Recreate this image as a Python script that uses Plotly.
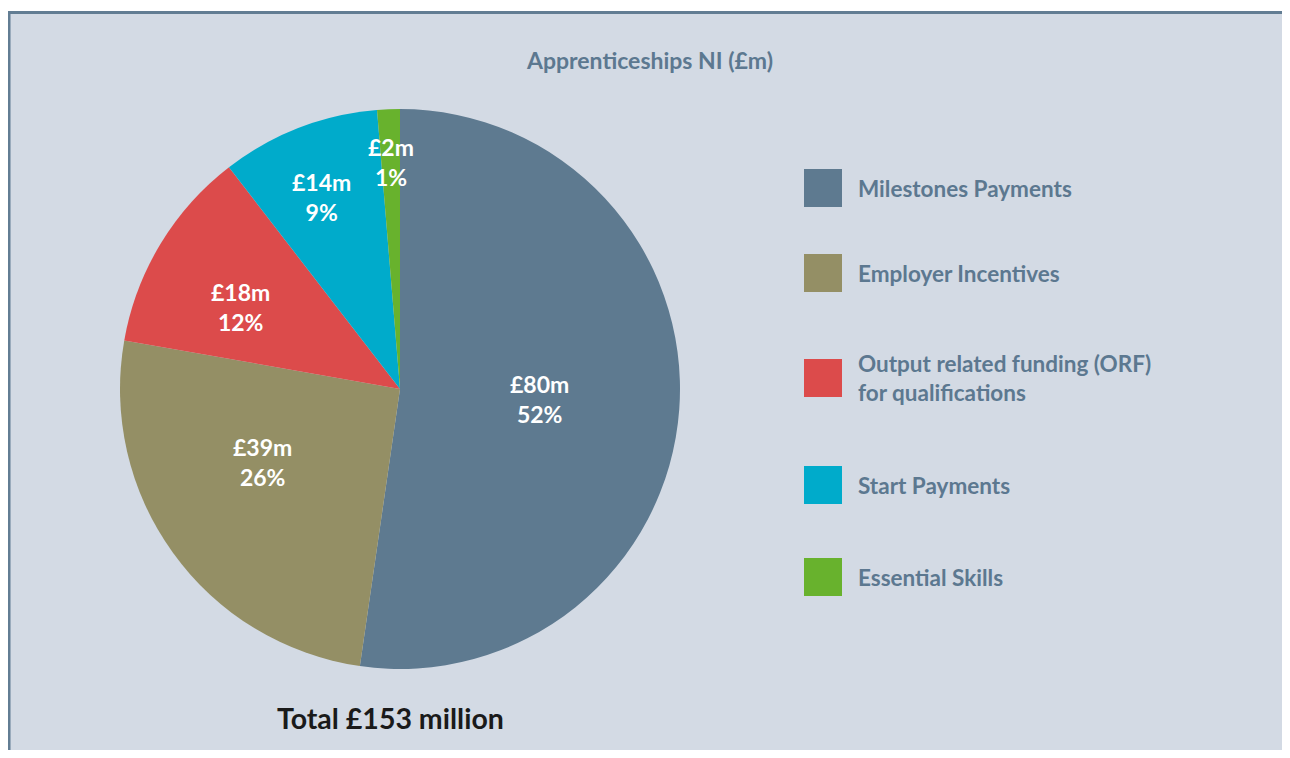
import math
import plotly.graph_objects as go

# ---- data ----
categories = ["Milestones Payments", "Employer Incentives",
              "Output related funding (ORF)<br>for qualifications",
              "Start Payments", "Essential Skills"]
values = [80, 39, 18, 14, 2]          # £m
percent_labels = ["52%", "26%", "12%", "9%", "1%"]
title_text = "Apprenticeships NI (£m)"
total_text = "Total £153 million"

# ---- style ----
colors = ["#5e7a90", "#948f65", "#dc4b4b", "#00abcb", "#68b22d"]
OFF = 8                               # page body margin
W, H = 1290 - OFF, 758 - 2 * OFF      # figure size so the page fits the window
CX, CY, R = 400, 389, 280             # pie centre / radius (page px)
label_radius = [0.5, 0.556, 0.642, 0.74, 0.81]
label_angle_nudge = [0, 8, -4, -1, 0]  # degrees
legend_y = [188, 273, 378, 485, 577]
text_col = "#5c7890"
border_col = "#627d93"
FONT = "Lato"


def px(x):
    return (x - OFF) / W


def py(y):
    return 1 - (y - OFF) / H


fig = go.Figure()
fig.add_trace(go.Pie(
    labels=categories, values=values, sort=False, direction="clockwise",
    rotation=0, marker=dict(colors=colors, line=dict(width=0)),
    textinfo="none", hoverinfo="label+value", showlegend=False,
    domain=dict(x=[px(CX - R), px(CX + R)], y=[py(CY + R), py(CY - R)]),
))

annotations = []
shapes = [
    dict(type="rect", xref="paper", yref="paper", layer="below",
         x0=px(9), x1=1.05, y0=-0.05, y1=py(12.5),
         fillcolor="#d3dae4", line=dict(width=0)),
    dict(type="line", xref="paper", yref="paper", layer="below",
         x0=px(7), x1=1.05, y0=py(12.5), y1=py(12.5),
         line=dict(color=border_col, width=3)),
    dict(type="line", xref="paper", yref="paper", layer="below",
         x0=px(9), x1=px(9), y0=-0.05, y1=py(11),
         line=dict(color=border_col, width=3)),
]

total = sum(values)
cum = 0
for i, v in enumerate(values):
    mid = (cum + v / 2) / total * 2 * math.pi + math.radians(label_angle_nudge[i])
    cum += v
    lx = CX + label_radius[i] * R * math.sin(mid)
    ly = CY - label_radius[i] * R * math.cos(mid)
    annotations.append(dict(
        x=px(lx), y=py(ly), xref="paper", yref="paper", showarrow=False,
        xanchor="center", yanchor="middle",
        text=f"<b>£{v}m<br>{percent_labels[i]}</b>",
        font=dict(family=FONT, size=23, color="white"), align="center"))

# legend (custom, large squares)
for i, cat in enumerate(categories):
    yc = legend_y[i]
    shapes.append(dict(type="rect", xref="paper", yref="paper",
                       x0=px(804), x1=px(842), y0=py(yc + 19), y1=py(yc - 19),
                       fillcolor=colors[i], line=dict(width=0)))
    annotations.append(dict(
        x=px(856), y=py(yc), xref="paper", yref="paper", showarrow=False,
        xanchor="left", yanchor="middle", align="left",
        text=f"<b>{cat}</b>", font=dict(family=FONT, size=22.5, color=text_col)))

annotations.append(dict(x=px(649), y=py(60), xref="paper", yref="paper",
                        showarrow=False, xanchor="center", yanchor="middle",
                        text=f"<b>{title_text}</b>",
                        font=dict(family=FONT, size=23, color=text_col)))
annotations.append(dict(x=px(390), y=py(718), xref="paper", yref="paper",
                        showarrow=False, xanchor="center", yanchor="middle",
                        text=f"<b>{total_text}</b>",
                        font=dict(family=FONT, size=28.5, color="#1a1a1a")))

fig.update_layout(width=W, height=H, margin=dict(l=0, r=0, t=0, b=0),
                  paper_bgcolor="white", plot_bgcolor="white",
                  annotations=annotations, shapes=shapes)
fig.write_html("out.html")
